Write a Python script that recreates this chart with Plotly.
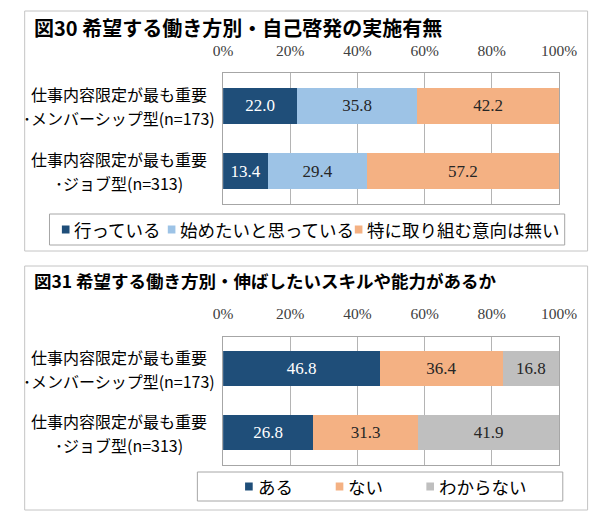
import plotly.graph_objects as go

# categories (shared by both charts)
categories = [
    "仕事内容限定が最も重要<br>･メンバーシップ型(n=173)",
    "仕事内容限定が最も重要<br>･ジョブ型(n=313)",
]

# 図30
fig30_title = "図30 希望する働き方別・自己啓発の実施有無"
fig30_series = ["行っている", "始めたいと思っている", "特に取り組む意向は無い"]
fig30_done = [22.0, 13.4]
fig30_want = [35.8, 29.4]
fig30_none = [42.2, 57.2]

# 図31
fig31_title = "図31 希望する働き方別・伸ばしたいスキルや能力があるか"
fig31_series = ["ある", "ない", "わからない"]
fig31_yes = [46.8, 26.8]
fig31_no = [36.4, 31.3]
fig31_unknown = [16.8, 41.9]

tick_vals = [0, 20, 40, 60, 80, 100]
tick_text = ["0%", "20%", "40%", "60%", "80%", "100%"]

W, H = 610, 514
JP = "Noto Sans CJK JP"
SERIF = "Liberation Serif"

DARK = "#1F4E79"
LIGHT = "#9DC3E6"
ORANGE = "#F4B183"
GRAY = "#BFBFBF"


def px(x):
    return x / W


def py(y):
    return 1 - y / H


fig = go.Figure()

panels = [
    dict(xa="x", ya="y", title=fig30_title, series=fig30_series,
         values=[fig30_done, fig30_want, fig30_none],
         colors=[DARK, LIGHT, ORANGE]),
    dict(xa="x2", ya="y2", title=fig31_title, series=fig31_series,
         values=[fig31_yes, fig31_no, fig31_unknown],
         colors=[DARK, ORANGE, GRAY]),
]

for p in panels:
    for name, vals, col in zip(p["series"], p["values"], p["colors"]):
        fig.add_trace(go.Bar(
            x=vals, y=categories, name=name, orientation="h",
            xaxis=p["xa"], yaxis=p["ya"],
            marker=dict(color=col, line=dict(width=0)),
            width=0.55,
            text=[f"{v:.1f}" for v in vals],
            textposition="inside", insidetextanchor="middle",
            textangle=0, constraintext="none",
            textfont=dict(family=SERIF, size=17,
                          color="white" if col == DARK else "#262626"),
            showlegend=False, hoverinfo="skip",
        ))

xaxis_style = dict(
    range=[0, 100], side="top", tickvals=tick_vals, ticktext=tick_text,
    tickfont=dict(family=SERIF, size=15.5, color="#404040"),
    ticks="outside", ticklen=10, tickcolor="rgba(0,0,0,0)",
    showgrid=True, gridcolor="#B4B4B4", gridwidth=1,
    showline=True, mirror=True, linecolor="#A6A6A6", linewidth=1,
    zeroline=False, fixedrange=True,
)
yaxis_style = dict(
    type="category", autorange="reversed", showticklabels=False,
    showline=True, mirror=True, linecolor="#A6A6A6", linewidth=1,
    showgrid=False, zeroline=False, fixedrange=True,
)

fig.update_layout(
    width=W, height=H, margin=dict(l=0, r=0, t=0, b=0),
    paper_bgcolor="white", plot_bgcolor="white",
    barmode="stack", bargap=0.45,
    xaxis=dict(xaxis_style, domain=[px(215), px(567)], anchor="y"),
    yaxis=dict(yaxis_style, domain=[py(196), py(65)], anchor="x"),
    xaxis2=dict(xaxis_style, domain=[px(215), px(567)], anchor="y2"),
    yaxis2=dict(yaxis_style, domain=[py(456.5), py(328.5)], anchor="x2"),
)

shapes = []
annotations = []

# outer frames and legend frames
frames = [(7, 3, 597, 243), (7, 258, 597, 502)]
legend_boxes = [(33, 206, 573, 237), (188, 464, 571, 493)]
for x0, y0, x1, y1 in frames:
    shapes.append(dict(type="rect", xref="paper", yref="paper",
                       x0=px(x0), y0=py(y0), x1=px(x1), y1=py(y1),
                       line=dict(color="#C4C4C4", width=1)))
for x0, y0, x1, y1 in legend_boxes:
    shapes.append(dict(type="rect", xref="paper", yref="paper",
                       x0=px(x0), y0=py(y0), x1=px(x1), y1=py(y1),
                       line=dict(color="#A6A6A6", width=1)))

# titles
annotations.append(dict(text=f"<b>{fig30_title}</b>", x=px(16), y=py(20),
                        xref="paper", yref="paper", xanchor="left", yanchor="middle",
                        showarrow=False, borderpad=0,
                        font=dict(family=JP, size=20, color="black")))
annotations.append(dict(text=f"<b>{fig31_title}</b>", x=px(16), y=py(272),
                        xref="paper", yref="paper", xanchor="left", yanchor="middle",
                        showarrow=False, borderpad=0,
                        font=dict(family=JP, size=17.5, color="black")))

# category labels: two centered lines
for p in panels:
    for c in categories:
        for line, shift in zip(c.split("<br>"), (12, -12)):
            annotations.append(dict(text=line, x=px(106), y=c, yshift=shift,
                                    xref="paper", yref=p["ya"],
                                    xanchor="center", yanchor="middle",
                                    showarrow=False, borderpad=0,
                                    font=dict(family=JP, size=16, color="black")))

# legends
legend_pos = [([46, 157, 353], 221.5), ([238, 333, 428], 478.5)]
for p, (xs, yc) in zip(panels, legend_pos):
    for name, col, x in zip(p["series"], p["colors"], xs):
        shapes.append(dict(type="rect", xref="paper", yref="paper",
                           x0=px(x), x1=px(x + 8), y0=py(yc + 4), y1=py(yc - 4),
                           fillcolor=col, line=dict(width=0)))
        annotations.append(dict(text=name, x=px(x + 11), y=py(yc), xref="paper",
                                yref="paper", xanchor="left", yanchor="middle",
                                showarrow=False,
                                font=dict(family=JP, size=17.5, color="black")))

fig.update_layout(shapes=shapes, annotations=annotations)

fig.write_html("out.html")
